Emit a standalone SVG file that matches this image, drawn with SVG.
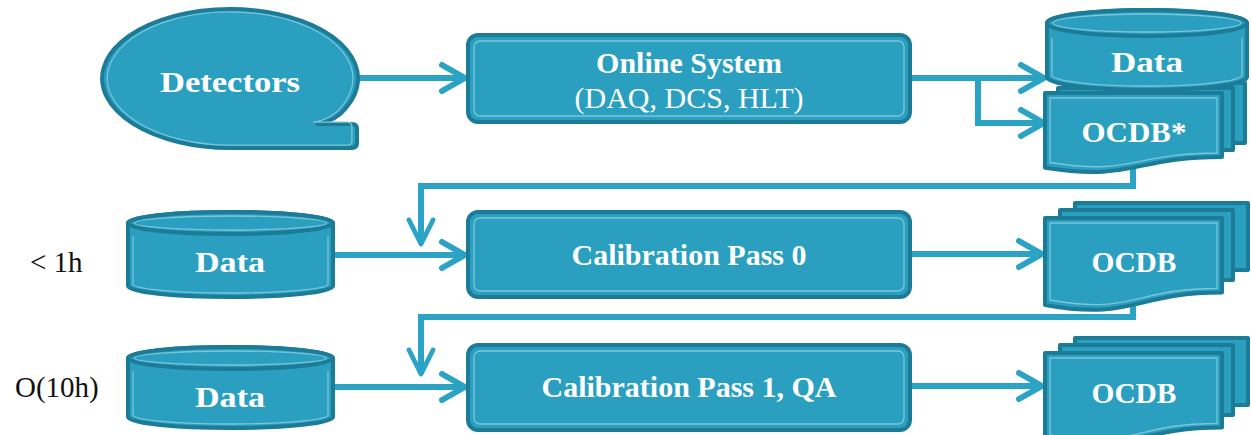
<svg xmlns="http://www.w3.org/2000/svg" width="1251" height="435" viewBox="0 0 1251 435">
<style>
.node{fill:#2a9fc0;stroke:#1c7c98;stroke-width:4;stroke-linejoin:round}
.inner{fill:none;stroke:#7cc6da;stroke-width:1.3}
.lbl{font-family:"Liberation Serif","Times New Roman",serif;font-weight:bold;fill:#ffffff;text-anchor:middle;font-size:30px}
.reg{font-family:"Liberation Serif","Times New Roman",serif;fill:#ffffff;text-anchor:middle;font-size:30px}
.side{font-family:"Liberation Serif","Times New Roman",serif;fill:#111111;font-size:29px}
.conn{fill:none;stroke:#2aa3c4;stroke-width:6}
.head{fill:none;stroke:#2aa3c4;stroke-width:6;stroke-linecap:round;stroke-linejoin:round}
</style>
<defs>
<marker id="ahR" markerUnits="userSpaceOnUse" markerWidth="40" markerHeight="40" viewBox="-30 -20 40 40" refX="0" refY="0" orient="auto" overflow="visible">
<path class="head" d="M-23,-13 L0,0 L-23,13"/>
</marker>
<marker id="ahD" markerUnits="userSpaceOnUse" markerWidth="40" markerHeight="40" viewBox="-40 -20 50 40" refX="0" refY="0" orient="auto" overflow="visible">
<path class="head" d="M-30,-15 L0,0 L-30,15"/>
</marker>
</defs>
<rect width="1251" height="435" fill="#ffffff"/>

<g id="connectors">
<path class="conn" d="M356,78 H465" marker-end="url(#ahR)"/>
<path class="conn" d="M908,78 H1044" marker-end="url(#ahR)"/>
<path class="conn" d="M978,78 V123 H1044" marker-end="url(#ahR)"/>
<path class="conn" d="M1133,160 V186 H421 V244" marker-end="url(#ahD)"/>
<path class="conn" d="M333,255 H465" marker-end="url(#ahR)"/>
<path class="conn" d="M908,254 H1042" marker-end="url(#ahR)"/>
<path class="conn" d="M1133,300 V317 H421 V374" marker-end="url(#ahD)"/>
<path class="conn" d="M333,387 H465" marker-end="url(#ahR)"/>
<path class="conn" d="M908,386 H1042" marker-end="url(#ahR)"/>
</g>

<g id="detectors">
<path class="node" d="M317,124 L352,124 Q357,124 357,129 L357,143 Q357,148 352,148 L230,148 A128,69.5 0 1 1 346,108 Q336,121 317,124 Z"/>
<path class="inner" transform="translate(230 79) scale(0.96) translate(-230 -79)" d="M317,124 L352,124 Q357,124 357,129 L357,143 Q357,148 352,148 L230,148 A128,69.5 0 1 1 346,108 Q336,121 317,124 Z"/>
<text class="lbl" x="230" y="92" font-size="33" textLength="140" lengthAdjust="spacingAndGlyphs">Detectors</text>
</g>

<g id="online">
<rect class="node" x="468" y="35" width="442" height="87" rx="10"/>
<rect class="inner" x="474" y="41" width="430" height="75" rx="6"/>
<text class="lbl" x="689" y="73">Online System</text>
<text class="reg" x="689" y="108">(DAQ, DCS, HLT)</text>
</g>

<g id="ocdb-star">
<rect class="node" x="1070" y="83" width="175" height="60"/>
<rect class="node" x="1058" y="88" width="175" height="62"/>
<path class="node" d="M1045,93 H1222 V157 C1133.5,157 1133.5,181.6 1045,167.7 Z"/>
<path class="inner" d="M1050,98 H1217 V153 C1133.5,153 1133.5,176 1050,162.5 Z"/>
<text class="lbl" x="1134" y="142" textLength="105" lengthAdjust="spacingAndGlyphs">OCDB*</text>
</g>

<g id="data-top">
<path class="node" d="M1047,23 V77 A100,13 0 0 0 1247,77 V23 A100,13 0 0 0 1047,23 Z"/>
<path class="inner" d="M1052,38 V75 A95,11 0 0 0 1242,75 V38"/>
<ellipse class="node" cx="1147" cy="23" rx="100" ry="13"/>
<ellipse class="inner" cx="1147" cy="23" rx="94" ry="9"/>
<text class="lbl" x="1147" y="72" font-size="34" textLength="72" lengthAdjust="spacingAndGlyphs">Data</text>
</g>

<g id="data-row2">
<path class="node" d="M128,223 V286 A102.5,11 0 0 0 333,286 V223 A102.5,11 0 0 0 128,223 Z"/>
<path class="inner" d="M133,236 V284 A97.5,9 0 0 0 328,284 V236"/>
<ellipse class="node" cx="230.5" cy="223" rx="102.5" ry="11"/>
<ellipse class="inner" cx="230.5" cy="223" rx="96" ry="7"/>
<text class="lbl" x="230" y="272" font-size="32" textLength="70" lengthAdjust="spacingAndGlyphs">Data</text>
</g>

<g id="calib0">
<rect class="node" x="468" y="212" width="442" height="85" rx="10"/>
<rect class="inner" x="474" y="218" width="430" height="73" rx="6"/>
<text class="lbl" x="689" y="265">Calibration Pass 0</text>
</g>

<g id="ocdb-row2">
<rect class="node" x="1075" y="203" width="173" height="67"/>
<rect class="node" x="1060" y="210" width="173" height="70"/>
<path class="node" d="M1045,218 H1222 V292.6 C1133.5,292.6 1133.5,321 1045,305 Z"/>
<path class="inner" d="M1050,223 H1217 V288.5 C1133.5,288.5 1133.5,315 1050,300 Z"/>
<text class="lbl" x="1134" y="272" textLength="85" lengthAdjust="spacingAndGlyphs">OCDB</text>
</g>

<g id="data-row3">
<path class="node" d="M128,358 V417 A102.5,11 0 0 0 333,417 V358 A102.5,11 0 0 0 128,358 Z"/>
<path class="inner" d="M133,371 V415 A97.5,9 0 0 0 328,415 V371"/>
<ellipse class="node" cx="230.5" cy="358" rx="102.5" ry="11"/>
<ellipse class="inner" cx="230.5" cy="358" rx="96" ry="7"/>
<text class="lbl" x="230" y="407" font-size="32" textLength="70" lengthAdjust="spacingAndGlyphs">Data</text>
</g>

<g id="calib1">
<rect class="node" x="468" y="345" width="442" height="85" rx="10"/>
<rect class="inner" x="474" y="351" width="430" height="73" rx="6"/>
<text class="lbl" x="689" y="397">Calibration Pass 1, QA</text>
</g>

<g id="ocdb-row3">
<rect class="node" x="1075" y="338" width="173" height="67"/>
<rect class="node" x="1060" y="345" width="173" height="70"/>
<path class="node" d="M1045,353 H1222 V427.6 C1133.5,427.6 1133.5,456 1045,440 Z"/>
<path class="inner" d="M1050,358 H1217 V423.5 C1133.5,423.5 1133.5,450 1050,435 Z"/>
<text class="lbl" x="1134" y="403" textLength="85" lengthAdjust="spacingAndGlyphs">OCDB</text>
</g>

<g id="labels">
<text class="side" x="30" y="272" font-size="28">&lt; 1h</text>
<text class="side" x="15" y="397" font-size="30">O(10h)</text>
</g>
</svg>
